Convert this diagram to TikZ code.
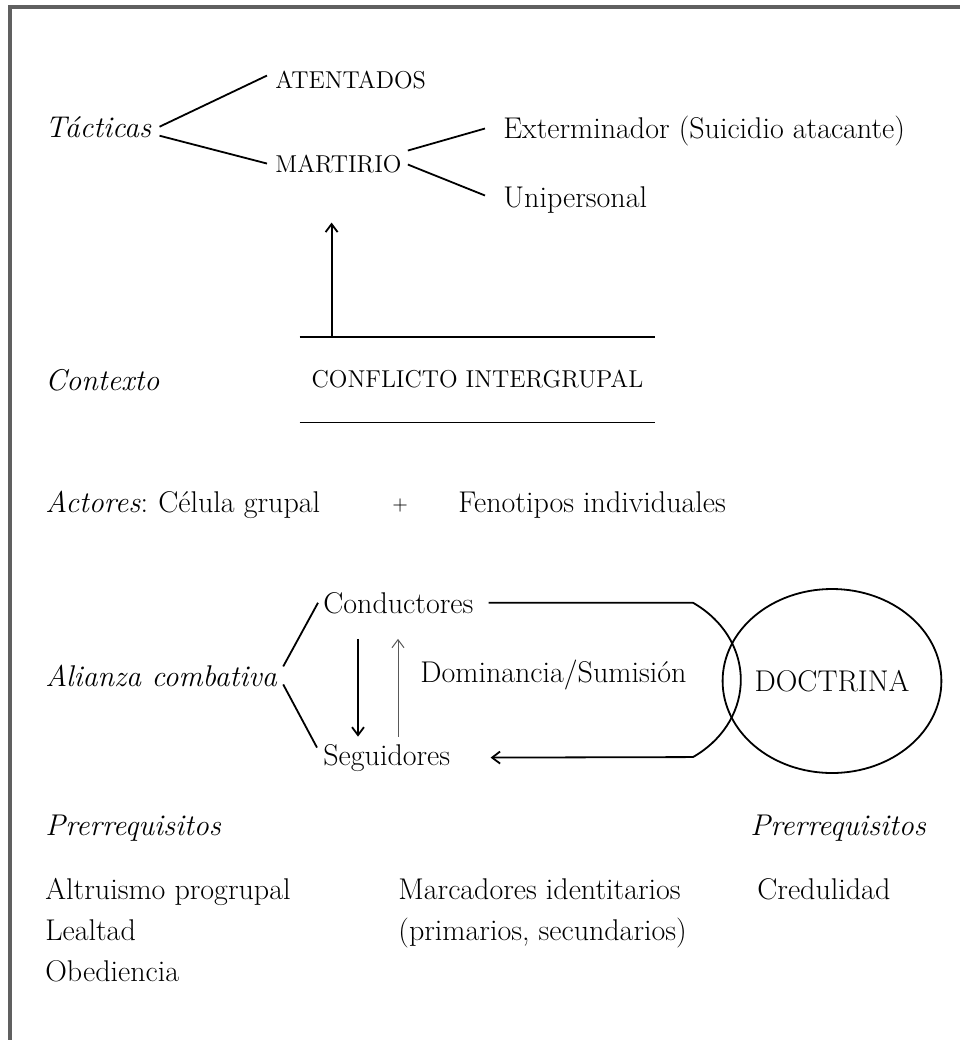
\documentclass[tikz,border=0pt]{standalone}
\usepackage{tikz}
\usetikzlibrary{arrows.meta,calc,positioning,shapes.geometric}
\tikzset{
  txt/.style={inner sep=0pt,anchor=base west,font=\fontsize{15}{18}\selectfont},
  lbl/.style={txt,font=\fontsize{15}{18}\selectfont\itshape},
  caps/.style={txt,font=\fontsize{12.2}{14}\selectfont},
  link/.style={line width=0.9pt,black},
  arr/.style={-{Straight Barb[length=4pt,width=6pt]},line width=0.9pt},
  boxline/.style={line width=1.6pt,gray!75!black}
}

\begin{document}
\begin{tikzpicture}[x=0.5pt,y=-0.5pt]
  \useasboundingbox (0,0) rectangle (960,1040);
  \draw[boxline] (10,1040) -- (10,7) -- (960,7);
  \node[lbl] (tact) at (45,137) {Tácticas};
  \node[caps] (aten) at (275,88) {ATENTADOS};
  \node[caps] (mart) at (275,172) {MARTIRIO};
  \node[txt] (ext) at (503,138) {Exterminador (Suicidio atacante)};
  \node[txt] (unip) at (503,207) {Unipersonal};
  \draw[link] ([xshift=4pt]tact.east) -- ([xshift=-4pt,yshift=2pt]aten.west);
  \draw[link] ([xshift=4pt,yshift=-4.5pt]tact.east) -- ([xshift=-4pt]mart.west);
  \draw[link] ([xshift=3pt,yshift=6.5pt]mart.east) -- ([xshift=-9pt,yshift=1pt]ext.west);
  \draw[link] ([xshift=3pt,yshift=-0.5pt]mart.east) -- ([xshift=-9pt,yshift=2pt]unip.west);
  \node[lbl] (ctx) at (45,390) {Contexto};
  \node[caps,anchor=center,minimum width=177.5pt,minimum height=42.5pt] (conf) at (477.5,379.5) {CONFLICTO INTERGRUPAL};
  \draw[link] (conf.north west) -- (conf.north east) (conf.south west) -- (conf.south east);
  \draw[arr] ([xshift=16pt]conf.north west) -- ++(0,-114);
  \node[txt] (act) at (45,512) {\textit{Actores}:};
  \node[txt] (cel) at (158,512) {Célula grupal};
  \node[txt,font=\fontsize{10}{12}\selectfont] (plus) at (392,510) {+};
  \node[txt] (feno) at (458,512) {Fenotipos individuales};
  \node[lbl] (ali) at (45,686) {Alianza combativa};
  \node[txt] (cond) at (323,613) {Conductores};
  \node[txt] (seg) at (323,765) {Seguidores};
  \node[txt] (dom) at (420,682) {Dominancia/Sumisión};
  \node[draw,ellipse,line width=0.9pt,minimum width=105pt,minimum height=92pt,inner sep=0pt,font=\fontsize{15}{18}\selectfont] (doct) at (832,681) {DOCTRINA};
  \draw[link] ([xshift=3pt,yshift=4.5pt]ali.east) -- ([xshift=-2.5pt]cond.west);
  \draw[link] ([xshift=3pt,yshift=-4.5pt]ali.east) -- ([xshift=-3pt,yshift=5pt]seg.west);
  \draw[arr] ([xshift=17.5pt,yshift=-12.5pt]cond.south west) -- ([xshift=17.5pt,yshift=3.5pt]seg.north west);
  \draw[arr,line width=0.5pt,gray!70!black] ([xshift=37.5pt,yshift=3.5pt]seg.north west) -- ([xshift=37.5pt,yshift=-12.5pt]cond.south west);
  \coordinate (loopT) at (693,0);
  \draw[arr] ([xshift=7.5pt]cond.east) -- (cond.east -| loopT) arc[start angle=-57,end angle=57,x radius=105,y radius=92] -- ([xshift=20pt]seg.east);
  \node[lbl] (preL) at (45,835) {Prerrequisitos};
  \node[lbl] (preR) at (750,835) {Prerrequisitos};
  \node[txt] (altr) at (45,899) {Altruismo progrupal};
  \node[txt] (leal) at (45,940) {Lealtad};
  \node[txt] (obed) at (45,981) {Obediencia};
  \node[txt] (marc) at (398,899) {Marcadores identitarios};
  \node[txt] (prim) at (398,940) {(primarios, secundarios)};
  \node[txt] (cred) at (757,899) {Credulidad};
\end{tikzpicture}
\end{document}
